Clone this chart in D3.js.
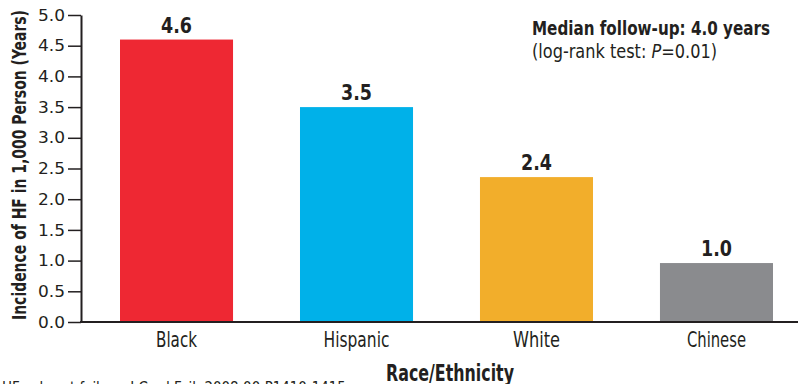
<!DOCTYPE html>
<html>
<head>
<meta charset="utf-8">
<script src="https://cdn.jsdelivr.net/npm/d3@7"></script>
<style>
  body { margin: 0; background: #fff; }
  svg text { font-family: "DejaVu Sans Condensed", "DejaVu Sans", sans-serif; font-stretch: condensed; fill: #231f20; }
</style>
</head>
<body>
<svg width="798" height="384"></svg>
<script>
// chart data
const groups = ['Black', 'Hispanic', 'White', 'Chinese'];
const incidence = [4.6, 3.5, 2.36, 0.96];
const valueLabels = ['4.6', '3.5', '2.4', '1.0'];
const barColors = ['#ee2833', '#00b1e9', '#f2ae2b', '#8a8b8e'];
const yTicks = [0, 0.5, 1, 1.5, 2, 2.5, 3, 3.5, 4, 4.5, 5];

// widths of the condensed type in the original
const groupWidths = [41, 66, 47, 59];

const svg = d3.select('svg');

// scales
const y = d3.scaleLinear().domain([0, 5]).range([322, 15]);
const x = d3.scaleBand()
	.domain(groups)
	.range([81, 812])
	.paddingInner(0.372)
	.paddingOuter(0.2167);

// y axis
const yAxis = svg.append('g')
	.attr('transform', 'translate(81,0)')
	.call(d3.axisLeft(y).tickValues(yTicks).tickFormat(d3.format('.1f')).tickSize(13).tickSizeOuter(0));
yAxis.select('.domain').attr('stroke', '#231f20').attr('stroke-width', 2);
yAxis.selectAll('.tick line').attr('stroke', '#231f20').attr('stroke-width', 1.5);
yAxis.selectAll('.tick text')
	.attr('x', -16)
	.attr('textLength', 27)
	.attr('lengthAdjust', 'spacingAndGlyphs')
	.style('font-family', '"DejaVu Sans Condensed", "DejaVu Sans", sans-serif')
	.style('font-size', '16px')
	.style('fill', '#231f20');

// bars
svg.append('g')
	.selectAll('rect')
	.data(groups)
	.enter()
	.append('rect')
	.attr('x', (d) => x(d))
	.attr('y', (d, i) => y(incidence[i]))
	.attr('width', x.bandwidth())
	.attr('height', (d, i) => y(0) - y(incidence[i]))
	.attr('fill', (d, i) => barColors[i]);

// value labels
svg.append('g')
	.selectAll('text')
	.data(groups)
	.enter()
	.append('text')
	.attr('x', (d) => x(d) + x.bandwidth() / 2)
	.attr('y', (d, i) => y(incidence[i]) - 7)
	.attr('text-anchor', 'middle')
	.attr('textLength', 31)
	.attr('lengthAdjust', 'spacingAndGlyphs')
	.style('font-size', '22px')
	.style('font-weight', 'bold')
	.text((d, i) => valueLabels[i]);

// baseline
svg.append('line')
	.attr('x1', 80).attr('x2', 798)
	.attr('y1', y(0)).attr('y2', y(0))
	.attr('stroke', '#231f20')
	.attr('stroke-width', 2);

// category labels
svg.append('g')
	.selectAll('text')
	.data(groups)
	.enter()
	.append('text')
	.attr('x', (d) => x(d) + x.bandwidth() / 2)
	.attr('y', 347)
	.attr('text-anchor', 'middle')
	.attr('textLength', (d, i) => groupWidths[i])
	.attr('lengthAdjust', 'spacingAndGlyphs')
	.style('font-size', '22px')
	.text((d) => d);

// axis titles
svg.append('text')
	.attr('transform', 'translate(26,165) rotate(-90)')
	.attr('text-anchor', 'middle')
	.attr('textLength', 310)
	.attr('lengthAdjust', 'spacingAndGlyphs')
	.style('font-size', '19px')
	.style('font-weight', 'bold')
	.text('Incidence of HF in 1,000 Person (Years)');

svg.append('text')
	.attr('x', 450)
	.attr('y', 381)
	.attr('text-anchor', 'middle')
	.attr('textLength', 128)
	.attr('lengthAdjust', 'spacingAndGlyphs')
	.style('font-size', '23px')
	.style('font-weight', 'bold')
	.text('Race/Ethnicity');

// annotation
svg.append('text')
	.attr('x', 532)
	.attr('y', 35)
	.attr('textLength', 238)
	.attr('lengthAdjust', 'spacingAndGlyphs')
	.style('font-size', '20px')
	.style('font-weight', 'bold')
	.text('Median follow-up: 4.0 years');

const note = svg.append('text')
	.attr('x', 532)
	.attr('y', 58)
	.attr('textLength', 185)
	.attr('lengthAdjust', 'spacingAndGlyphs')
	.style('font-size', '19px');
note.append('tspan').text('(log-rank test: ');
note.append('tspan').style('font-style', 'italic').text('P');
note.append('tspan').text('=0.01)');

// footnote (cut off at bottom)
svg.append('text')
	.attr('x', 2)
	.attr('y', 393)
	.attr('textLength', 348)
	.attr('lengthAdjust', 'spacingAndGlyphs')
	.style('font-size', '16px')
	.text('HF = heart failure. J Card Fail. 2008;00:P1410-1415.');
</script>
</body>
</html>
